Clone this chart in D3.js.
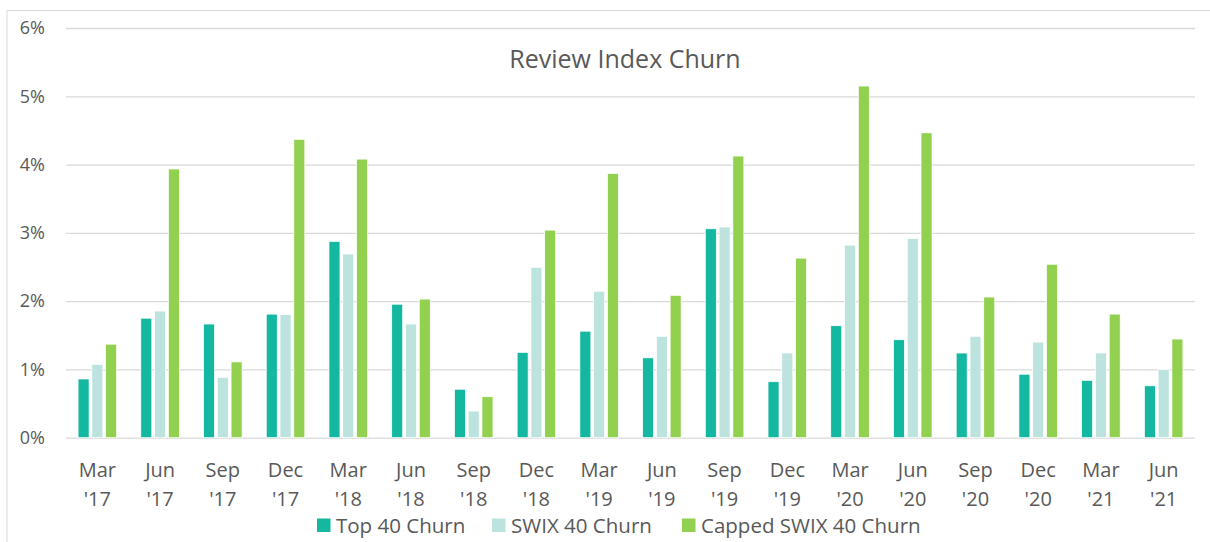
<!DOCTYPE html>
<html>
<head>
<meta charset="utf-8">
<script src="https://cdn.jsdelivr.net/npm/d3@7"></script>
<style>
  html, body { margin: 0; padding: 0; background: #fff; }
  svg { display: block; }
  text { font-family: "Open Sans", "Noto Sans", sans-serif; fill: #595959; }
</style>
</head>
<body>
<svg id="chart" width="1210" height="542"></svg>
<script>
const categories = ["Mar '17","Jun '17","Sep '17","Dec '17","Mar '18","Jun '18","Sep '18","Dec '18","Mar '19","Jun '19","Sep '19","Dec '19","Mar '20","Jun '20","Sep '20","Dec '20","Mar '21","Jun '21"];
const seriesNames = ["Top 40 Churn", "SWIX 40 Churn", "Capped SWIX 40 Churn"];
const top40 = [0.86, 1.75, 1.665, 1.81, 2.875, 1.955, 0.71, 1.25, 1.56, 1.17, 3.06, 0.82, 1.64, 1.435, 1.24, 0.93, 0.84, 0.76];
const swix40 = [1.075, 1.855, 0.885, 1.805, 2.69, 1.665, 0.39, 2.495, 2.145, 1.485, 3.085, 1.24, 2.82, 2.915, 1.485, 1.40, 1.24, 1.00];
const cappedSwix40 = [1.37, 3.935, 1.11, 4.37, 4.08, 2.03, 0.60, 3.04, 3.87, 2.085, 4.125, 2.63, 5.15, 4.465, 2.06, 2.54, 1.81, 1.445];
const yTicks = [0, 1, 2, 3, 4, 5, 6];
const colors = ["#14B8A1", "#BDE3DF", "#92D050"];

const svg = d3.select("#chart");
const W = 1210, H = 542;
const plot = { left: 66, right: 1195, top: 28, bottom: 437.7 };

// outer chart-area border (top and left visible)
svg.append("line").attr("x1", 7).attr("x2", W).attr("y1", 10.5).attr("y2", 10.5)
  .attr("stroke", "#d9d9d9").attr("stroke-width", 1);
svg.append("line").attr("x1", 7).attr("x2", 7).attr("y1", 10.5).attr("y2", H)
  .attr("stroke", "#d9d9d9").attr("stroke-width", 1);

const x0 = d3.scaleBand().domain(categories).range([plot.left, plot.right]).paddingInner(0.385).paddingOuter(0.1925);
const x1 = d3.scaleBand().domain(seriesNames).range([0, x0.bandwidth()]).paddingInner(0.2);
const y = d3.scaleLinear().domain([0, 6]).range([plot.bottom, plot.top]);

// gridlines
const yAxis = d3.axisLeft(y).tickValues(yTicks).tickFormat(d => d + "%")
  .tickSize(-(plot.right - plot.left)).tickPadding(21);
const gy = svg.append("g").attr("transform", `translate(${plot.left},0)`).call(yAxis);
gy.select(".domain").remove();
gy.selectAll(".tick line").attr("stroke", "#d9d9d9").attr("stroke-width", 1.3);
gy.selectAll(".tick text").attr("font-size", 18).style("fill", "#595959")
  .attr("font-family", "'Open Sans', sans-serif");

// bars
const data = categories.map((c, i) => ({ cat: c, vals: [top40[i], swix40[i], cappedSwix40[i]] }));
const groups = svg.append("g").selectAll("g").data(data).join("g")
  .attr("transform", d => `translate(${x0(d.cat)},0)`);
groups.selectAll("rect").data(d => d.vals.map((v, j) => ({ name: seriesNames[j], v, j })))
  .join("rect")
  .attr("x", d => x1(d.name))
  .attr("width", x1.bandwidth())
  .attr("y", d => y(d.v))
  .attr("height", d => y(0) - y(d.v))
  .attr("fill", d => colors[d.j])
  .attr("stroke", "#fff").attr("stroke-width", 0.75);

// x axis labels (two lines)
const xAxis = d3.axisBottom(x0).tickSize(0).tickFormat("");
const gx = svg.append("g").attr("transform", `translate(0,${plot.bottom})`).call(xAxis);
gx.select(".domain").remove();
gx.selectAll(".tick").each(function(d) {
  const parts = d.split(" ");
  const t = d3.select(this).append("text").attr("text-anchor", "middle")
    .attr("font-size", 20).style("fill", "#595959");
  t.append("tspan").attr("x", 0).attr("y", 39.5).text(parts[0]);
  t.append("tspan").attr("x", 0).attr("y", 68).text(parts[1]);
});

// title
svg.append("text").attr("x", 625).attr("y", 68).attr("text-anchor", "middle")
  .attr("font-size", 25).text("Review Index Churn");

// legend
const legendItems = [
  { name: seriesNames[0], x: 317 },
  { name: seriesNames[1], x: 492 },
  { name: seriesNames[2], x: 682 }
];
const lg = svg.append("g");
legendItems.forEach((it, i) => {
  lg.append("rect").attr("x", it.x).attr("y", 518.5).attr("width", 13.5).attr("height", 13.5)
    .attr("fill", colors[i]);
  lg.append("text").attr("x", it.x + 19).attr("y", 533).attr("font-size", 20.5).text(it.name);
});
</script>
</body>
</html>
